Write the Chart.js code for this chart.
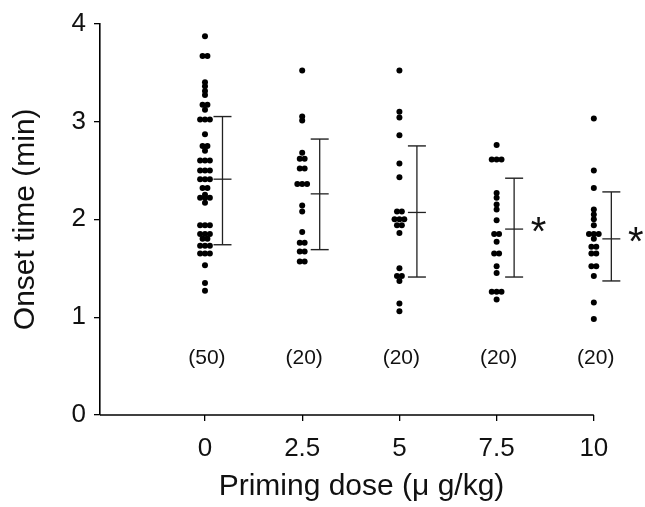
<!DOCTYPE html>
<html>
<head>
<meta charset="utf-8">
<script src="https://cdn.jsdelivr.net/npm/chart.js@4/dist/chart.umd.min.js"></script>
<style>
  body { margin: 0; background: #fff; }
</style>
</head>
<body>
<canvas id="onsetChart" width="645" height="507"></canvas>
<script>
const doses = [0, 2.5, 5, 7.5, 10];
const groupSizes = ["(50)", "(20)", "(20)", "(20)", "(20)"];
const yTicks = [0, 1, 2, 3, 4];

// onset times, one list per priming dose
const onset0 = [3.87, 3.67, 3.67, 3.40, 3.36, 3.31, 3.27, 3.17, 3.17, 3.12,
    3.02, 3.02, 3.02, 2.87, 2.75, 2.75, 2.70, 2.60, 2.60, 2.60,
    2.50, 2.50, 2.50, 2.41, 2.41, 2.41, 2.32, 2.32, 2.25, 2.22,
    2.22, 2.22, 2.17, 1.94, 1.94, 1.94, 1.85, 1.85, 1.85, 1.80,
    1.80, 1.73, 1.73, 1.73, 1.65, 1.65, 1.65, 1.53, 1.35, 1.27];
const onset25 = [3.52, 3.05, 3.01, 2.68, 2.62, 2.62, 2.52, 2.52, 2.36, 2.36,
    2.36, 2.14, 2.08, 1.87, 1.76, 1.76, 1.67, 1.67, 1.57, 1.57];
const onset5 = [3.52, 3.10, 3.04, 2.86, 2.57, 2.43, 2.08, 2.08, 2.00, 2.00,
    2.00, 1.94, 1.94, 1.86, 1.50, 1.42, 1.42, 1.37, 1.14, 1.06];
const onset75 = [2.76, 2.61, 2.61, 2.61, 2.27, 2.22, 2.15, 2.10, 1.99, 1.85,
    1.85, 1.77, 1.65, 1.65, 1.52, 1.45, 1.26, 1.26, 1.26, 1.18];
const onset10 = [3.03, 2.50, 2.32, 2.10, 2.05, 2.00, 1.94, 1.85, 1.85, 1.85,
    1.80, 1.72, 1.72, 1.65, 1.65, 1.52, 1.52, 1.42, 1.15, 0.98];

// mean +/- SD bars
const meanOnset = [2.41, 2.26, 2.07, 1.90, 1.80];
const sdHigh = [3.05, 2.82, 2.75, 2.42, 2.28];
const sdLow = [1.74, 1.69, 1.41, 1.41, 1.37];
const significant = [false, false, false, true, true];

const groups = [onset0, onset25, onset5, onset75, onset10];
const barShift = 0.45;
const dotGap = 0.125;
const xAxisEnd = 10;

// dots with the same value sit side by side
function spreadDots(dose, values) {
    const counts = {};
    values.forEach(v => { counts[v] = (counts[v] || 0) + 1; });
    const pts = [];
    Object.keys(counts).forEach(key => {
        const k = counts[key];
        for (let i = 0; i < k; i++) {
            pts.push({ x: dose + (i - (k - 1) / 2) * dotGap, y: parseFloat(key) });
        }
    });
    return pts;
}

const datasets = [];
groups.forEach((vals, i) => {
    datasets.push({
        type: "scatter",
        data: spreadDots(doses[i], vals),
        pointRadius: 3,
        pointBackgroundColor: "#000",
        pointBorderWidth: 0,
        clip: false
    });
});
doses.forEach((d, i) => {
    datasets.push({
        type: "line",
        data: [{ x: d + barShift, y: sdLow[i] }, { x: d + barShift, y: sdHigh[i] }],
        borderColor: "#222",
        borderWidth: 1.3,
        pointStyle: "line",
        pointRadius: 9,
        pointBorderColor: "#222",
        pointBorderWidth: 1.4,
        clip: false
    });
    datasets.push({
        type: "scatter",
        data: [{ x: d + barShift, y: meanOnset[i] }],
        pointStyle: "line",
        pointRadius: 9,
        pointBorderColor: "#222",
        pointBorderWidth: 1.3,
        clip: false
    });
});

// x axis line stops at the last dose; group counts and asterisks
const notes = {
    id: "notes",
    beforeDatasetsDraw(chart) {
        const ctx = chart.ctx;
        const xs = chart.scales.x;
        const area = chart.chartArea;
        ctx.save();
        ctx.strokeStyle = "#000";
        ctx.lineWidth = 1.6;
        ctx.beginPath();
        ctx.moveTo(area.left, area.bottom);
        ctx.lineTo(xs.getPixelForValue(xAxisEnd), area.bottom);
        ctx.stroke();
        ctx.restore();
    },
    afterDatasetsDraw(chart) {
        const ctx = chart.ctx;
        const xs = chart.scales.x;
        const ys = chart.scales.y;
        ctx.save();
        ctx.fillStyle = "#111";
        ctx.textAlign = "center";
        ctx.textBaseline = "middle";
        ctx.font = "21px 'Liberation Sans', Arial, sans-serif";
        doses.forEach((d, i) => {
            ctx.fillText(groupSizes[i], xs.getPixelForValue(d + 0.05), ys.getPixelForValue(0.58));
        });
        ctx.font = "40px 'Liberation Sans', Arial, sans-serif";
        ctx.textBaseline = "alphabetic";
        doses.forEach((d, i) => {
            if (!significant[i]) return;
            ctx.fillText("*", xs.getPixelForValue(d + barShift + 0.63), ys.getPixelForValue(meanOnset[i]) + 16);
        });
        ctx.restore();
    }
};

const tickFont = { family: "'Liberation Sans', Arial, sans-serif", size: 26 };

new Chart(document.getElementById("onsetChart").getContext("2d"), {
    type: "scatter",
    data: { datasets: datasets },
    options: {
        responsive: false,
        animation: false,
        layout: { padding: { top: 17, right: 22, left: 0, bottom: 0 } },
        plugins: { legend: { display: false }, tooltip: { enabled: false } },
        scales: {
            x: {
                type: "linear",
                min: -2.7,
                max: 10.75,
                afterBuildTicks: s => { s.ticks = doses.map(v => ({ value: v })); },
                afterFit: s => { s.height = 92; },
                grid: { drawOnChartArea: false, tickLength: 6, color: "#000", lineWidth: 1.3 },
                border: { display: false },
                ticks: { font: tickFont, color: "#111", padding: 12, maxRotation: 0 },
                title: {
                    display: true,
                    text: "Priming dose (μ g/kg)",
                    font: { family: "'Liberation Sans', Arial, sans-serif", size: 30 },
                    color: "#111",
                    padding: { top: 0, bottom: 2 }
                }
            },
            y: {
                min: 0,
                max: 4,
                afterBuildTicks: s => { s.ticks = yTicks.map(v => ({ value: v })); },
                afterFit: s => { s.width = 100; },
                grid: { drawOnChartArea: false, tickLength: 6, color: "#000", lineWidth: 1.3 },
                border: { color: "#000", width: 1.6 },
                ticks: { font: tickFont, color: "#111", padding: 8 },
                title: {
                    display: true,
                    text: "Onset time (min)",
                    font: { family: "'Liberation Sans', Arial, sans-serif", size: 30 },
                    color: "#111",
                    padding: { top: 8, bottom: 0 }
                }
            }
        }
    },
    plugins: [notes]
});
</script>
</body>
</html>
